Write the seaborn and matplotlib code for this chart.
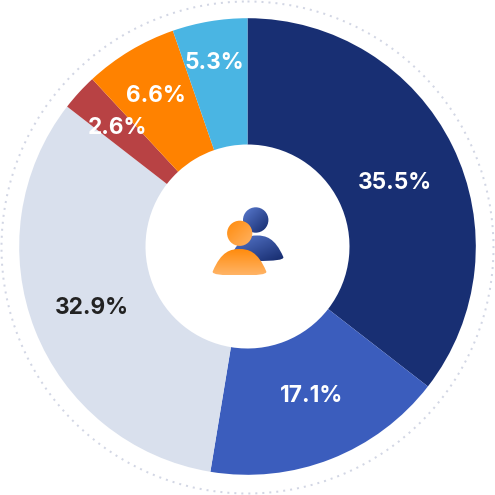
import numpy as np
import seaborn as sns
import matplotlib.pyplot as plt
from matplotlib.patches import Circle, PathPatch
from matplotlib.path import Path
from matplotlib.colors import LinearSegmentedColormap

sns.set_theme(style="white")
plt.rcParams['font.family'] = ['Inter', 'DejaVu Sans']

# clockwise from 12 o'clock
shares = [35.5, 17.1, 32.9, 2.6, 6.6, 5.3]
labels = ['35.5%', '17.1%', '32.9%', '2.6%', '6.6%', '5.3%']
colors = sns.color_palette(['#182f73', '#3b5dbd', '#d9e0ed', '#b84244', '#ff8200', '#4ab5e3'])
label_colors = ['white', 'white', '#222222', 'white', 'white', 'white']
label_pos = [(395, 183), (312, 396), (92, 308), (117, 128), (156, 96), (214, 63)]

cx, cy = 247.5, 246.5

fig = plt.figure(figsize=(4.95, 4.95), dpi=100)
ax = fig.add_axes([0, 0, 1, 1])

# y axis runs downward here, so counterclock in data is clockwise on screen
ax.pie(shares, colors=colors, startangle=270, counterclock=True, radius=228.3,
       center=(cx, cy), wedgeprops=dict(width=126.3, linewidth=0), frame=False)
ax.set_aspect('equal')
ax.axis('off')

ring = Circle((247.5, 247.5), 246, fill=False, edgecolor='#d2d6e4', linewidth=1.44,
              linestyle=(0, (1.0, 2.5)))
ax.add_patch(ring)

for txt, (x, y), c in zip(labels, label_pos, label_colors):
    ax.text(x, y, txt, color=c, fontsize=16.3, fontweight='bold', ha='center', va='center')


def fill_gradient(patch, extent, c1, c2, angle):
    cmap = LinearSegmentedColormap.from_list('g', [c1, c2])
    xx, yy = np.meshgrid(np.linspace(0, 1, 64), np.linspace(0, 1, 64))
    grad = xx * np.cos(angle) + yy * np.sin(angle)
    im = ax.imshow(grad, extent=extent, cmap=cmap, origin='upper', zorder=5, aspect='auto')
    ax.add_patch(patch)
    im.set_clip_path(patch)
    return im


def body(x0, x1, top, bottom):
    m = (x0 + x1) / 2
    w = x1 - x0
    verts = [(x0 + 0.03 * w, bottom - 4), (x0 + 0.18 * w, top + 2), (m - 0.15 * w, top), (m, top),
             (m + 0.15 * w, top), (x1 - 0.18 * w, top + 2), (x1 - 0.03 * w, bottom - 4),
             (x1 - 0.01 * w, bottom - 1), (x1 - 0.2 * w, bottom), (m, bottom),
             (x0 + 0.2 * w, bottom), (x0 + 0.01 * w, bottom - 1), (x0 + 0.03 * w, bottom - 4)]
    codes = [Path.MOVETO] + [Path.CURVE4] * 12
    return Path(verts, codes)


blue = ('#5a7bd0', '#14296b')
orange = ('#ff8a0a', '#ffb466')

# back person
fill_gradient(PathPatch(body(229, 285, 235.5, 261), fc='none', ec='none', transform=ax.transData),
              (229, 285, 261, 235), blue[0], blue[1], 0.8)
fill_gradient(Circle((255.7, 220), 12.7, fc='none', ec='none', transform=ax.transData),
              (243, 268.5, 232.7, 207.3), blue[0], blue[1], 0.8)
# front person
fill_gradient(PathPatch(body(211, 268, 249, 275.5), fc='none', ec='none', transform=ax.transData),
              (211, 268, 275.5, 249), orange[0], orange[1], np.pi / 2)
fill_gradient(Circle((239.7, 233.3), 12.6, fc='none', ec='none', transform=ax.transData),
              (227, 252.3, 246, 220.7), orange[0], orange[1], 0.8)

ax.set_xlim(0, 495)
ax.set_ylim(495, 0)
fig.savefig('out.png', dpi=100, facecolor='white')
